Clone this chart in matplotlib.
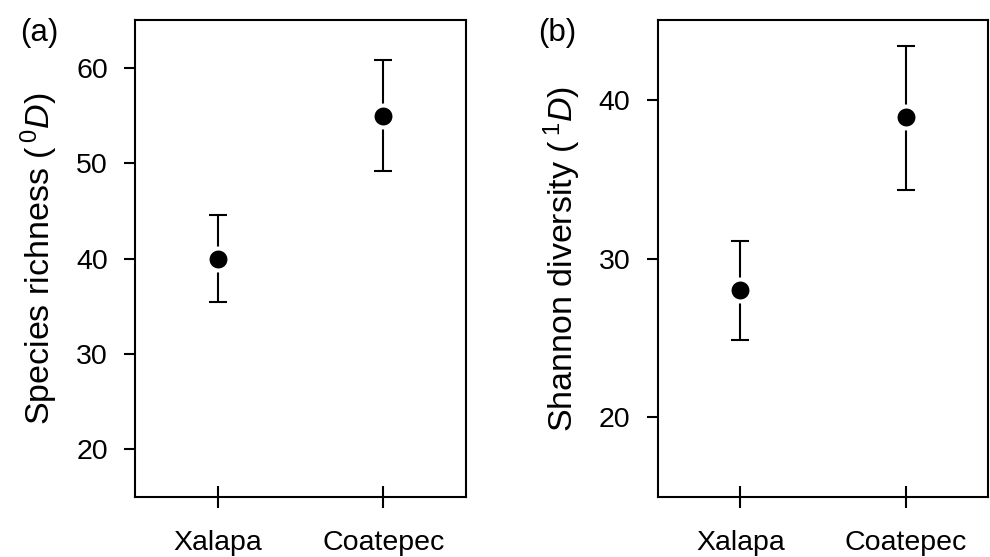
import matplotlib
matplotlib.use('Agg')
from matplotlib import pyplot as plt

## datos

sitios = ['Xalapa', 'Coatepec']

riqueza = [40.0, 55.0]
riqueza_inf = [35.4, 49.2]
riqueza_sup = [44.6, 60.8]

shannon = [28.0, 38.9]
shannon_inf = [24.9, 34.3]
shannon_sup = [31.1, 43.4]

plt.rcParams['font.family'] = 'Liberation Sans'
plt.rcParams['mathtext.fontset'] = 'custom'
plt.rcParams['mathtext.rm'] = 'Liberation Sans'
plt.rcParams['mathtext.it'] = 'Liberation Sans:italic'


def panel(ax, y, inf, sup, yticks, ylim, ylabel, label_x):
    x = list(range(1, len(sitios) + 1))
    err = [[v - l for v, l in zip(y, inf)], [u - v for v, u in zip(y, sup)]]
    ax.errorbar(x, y, yerr=err, fmt='none', ecolor='black', elinewidth=1.5,
                capsize=6.4, capthick=1.5)
    # borde blanco para dejar el hueco entre el punto y la barra
    ax.plot(x, y, 'o', color='black', markersize=15.8,
            markeredgecolor='white', markeredgewidth=2.9)

    ax.set_xlim(0.5, 2.5)
    ax.set_ylim(*ylim)
    ax.set_xticks(x)
    ax.set_xticklabels(sitios, fontsize=20.5)
    ax.set_yticks(yticks)
    ax.set_yticklabels([str(t) for t in yticks], fontsize=20.5)
    ax.tick_params(axis='x', direction='inout', length=16, width=1.5, pad=16)
    ax.tick_params(axis='y', direction='out', length=8, width=1.5, pad=11.5)
    for s in ax.spines.values():
        s.set_linewidth(1.5)
    ax.set_ylabel(ylabel, fontsize=24.5)
    ax.yaxis.set_label_coords(label_x, 0.5)


fig = plt.figure(figsize=(9.9, 5.57), dpi=100)

ax1 = fig.add_axes([0.1364, 0.1083, 0.3343, 0.8549])
panel(ax1, riqueza, riqueza_inf, riqueza_sup, [20, 30, 40, 50, 60], (15, 65),
      r'Species richness ($\,^{0}D$)', -0.2266)

ax2 = fig.add_axes([0.6643, 0.1083, 0.3340, 0.8549])
panel(ax2, shannon, shannon_inf, shannon_sup, [20, 30, 40], (15, 45),
      r'Shannon diversity ($\,^{1}D$)', -0.225)

fig.text(20 / 990, 1 - 33 / 557, '(a)', fontsize=22.5, va='center', ha='left')
fig.text(538 / 990, 1 - 33 / 557, '(b)', fontsize=22.5, va='center', ha='left')

plt.savefig('out.png', dpi=100)
